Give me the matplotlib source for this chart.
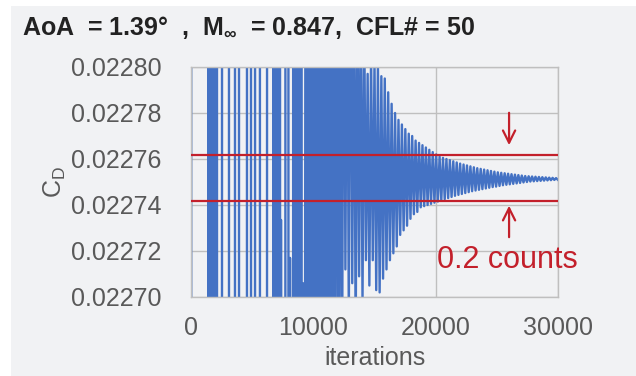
import numpy as np
import matplotlib.pyplot as plt
from matplotlib.patches import Rectangle
from matplotlib.ticker import FormatStrFormatter

# early iterations: C_D swings far outside the window, so only near-vertical strokes show
early_iter = [0, 30,
              1390, 1430, 1470, 1510, 1550, 1590, 1630, 1670, 1710, 1750, 1790, 1830, 1870, 1910, 1950, 1990,
              2110, 2140, 2520, 2550, 3090, 3120, 3580, 3610, 3910, 3940, 4560, 4590, 4890, 4920,
              5220, 5250, 5620, 5650, 6200, 6230,
              6700, 6740, 6780, 6820, 6860, 6900, 6940, 6980, 7020, 7060, 7100, 7140, 7180, 7220, 7260, 7300,
              7330, 7357, 7385, 7700, 7730, 7950, 7980, 8070, 8093, 8115,
              8330, 8370, 8410, 8450, 8490, 8530, 8570, 8610, 8650, 8690, 8730, 8770, 8810, 8850, 8890, 8930,
              8970, 9010, 9050, 9130, 9155, 9180]
early_cd = [0.0236, 0.0219,
            0.0219, 0.0236, 0.0219, 0.0236, 0.0219, 0.0236, 0.0219, 0.0236, 0.0219, 0.0236, 0.0219, 0.0236, 0.0219, 0.0236, 0.0219, 0.0236,
            0.0236, 0.0219, 0.0219, 0.0236, 0.0236, 0.0219, 0.0219, 0.0236, 0.0236, 0.0219, 0.0219, 0.0236, 0.0236, 0.0219,
            0.0219, 0.0236, 0.0236, 0.0219, 0.0219, 0.0236,
            0.0236, 0.0219, 0.0236, 0.0219, 0.0236, 0.0219, 0.0236, 0.0219, 0.0236, 0.0219, 0.0236, 0.0219, 0.0236, 0.0219, 0.0236, 0.0219,
            0.0219, 0.0227335, 0.0219, 0.0219, 0.0236, 0.0236, 0.0219, 0.0219, 0.022717, 0.0219,
            0.0219, 0.0236, 0.0219, 0.0236, 0.0219, 0.0236, 0.0219, 0.0236, 0.0219, 0.0236, 0.0219, 0.0236, 0.0219, 0.0236, 0.0219, 0.0236,
            0.0219, 0.0236, 0.0219, 0.0219, 0.022706, 0.0219]

# later iterations: one peak and one trough per cycle
cycle_start = 9400
cycle_len = 280
peak_cd = [0.02310, 0.02305, 0.02298, 0.02302, 0.02295, 0.02300, 0.02292, 0.02296, 0.02290, 0.02293,
           0.02288, 0.02290, 0.02286, 0.02288, 0.02285, 0.02284, 0.02283, 0.02282, 0.022797, 0.022805,
           0.022802, 0.022801, 0.022796, 0.022795, 0.022789, 0.022784, 0.022780, 0.022777, 0.022775, 0.022773,
           0.022771, 0.022770, 0.022768, 0.022767, 0.022766, 0.022765, 0.022764, 0.022763, 0.022762, 0.022761,
           0.0227605, 0.022760, 0.0227595, 0.022759, 0.0227585, 0.022758, 0.0227576, 0.0227572, 0.0227568, 0.0227564,
           0.022756, 0.0227557, 0.0227554, 0.0227551, 0.0227548, 0.0227545, 0.0227542, 0.022754, 0.0227538, 0.0227536,
           0.0227534, 0.0227532, 0.022753, 0.0227528, 0.0227526, 0.0227525, 0.0227524, 0.0227523, 0.0227522, 0.0227521,
           0.022752, 0.0227519, 0.0227518, 0.0227517]
trough_cd = [0.02240, 0.02245, 0.02250, 0.02248, 0.02252, 0.02255, 0.02256, 0.02258, 0.02260, 0.02262,
             0.02264, 0.022712, 0.022690, 0.022706, 0.022680, 0.022709, 0.022698, 0.022716, 0.022705, 0.022716,
             0.022703, 0.022702, 0.022708, 0.022712, 0.022716, 0.022719, 0.022722, 0.022727, 0.022729, 0.022731,
             0.022734, 0.022736, 0.022737, 0.022739, 0.0227395, 0.022740, 0.0227405, 0.022741, 0.0227415, 0.022742,
             0.0227425, 0.022743, 0.0227435, 0.022744, 0.0227444, 0.0227448, 0.0227452, 0.0227456, 0.022746, 0.0227463,
             0.0227466, 0.0227469, 0.0227472, 0.0227475, 0.0227478, 0.022748, 0.0227483, 0.0227486, 0.0227488, 0.022749,
             0.0227492, 0.0227494, 0.0227496, 0.0227498, 0.02275, 0.0227502, 0.0227503, 0.0227504, 0.0227505, 0.0227506,
             0.0227507, 0.0227508, 0.0227509, 0.022751]

band_cd = [0.0227617, 0.0227417]   # the two red reference lines (0.2 counts apart)

blue = '#4472c4'
red = '#c3202b'
grey_txt = '#595959'
bg = '#f1f2f4'

k = np.arange(len(peak_cd))
cyc_iter = np.empty(2 * len(k))
cyc_iter[0::2] = cycle_start + cycle_len * k
cyc_iter[1::2] = cycle_start + cycle_len * k + cycle_len / 2
cyc_cd = np.empty(2 * len(k))
cyc_cd[0::2] = peak_cd
cyc_cd[1::2] = trough_cd

x = np.concatenate([early_iter, cyc_iter])
y = np.concatenate([early_cd, cyc_cd])

fig = plt.figure(figsize=(6.36, 3.76), dpi=100, facecolor='white')
fig.patches.append(Rectangle((11 / 636, 0), 1, 370 / 376, transform=fig.transFigure,
                             facecolor=bg, edgecolor='none', zorder=-10))
ax = fig.add_axes([191 / 636, 79 / 376, 367 / 636, 230 / 376])
ax.set_facecolor(bg)

ax.plot(x, y, color=blue, lw=1.7, zorder=2)
for v in band_cd:
    ax.axhline(v, color=red, lw=1.6, zorder=3)

ax.annotate('', xy=(26000, 0.0227648), xytext=(26000, 0.0227813),
            arrowprops=dict(arrowstyle='->', color=red, lw=1.6, mutation_scale=22))
ax.annotate('', xy=(26000, 0.0227409), xytext=(26000, 0.0227248),
            arrowprops=dict(arrowstyle='->', color=red, lw=1.6, mutation_scale=22))
ax.text(20100, 0.0227126, '0.2 counts', color=red, fontsize=22, family='Liberation Sans',
        va='baseline', ha='left', zorder=5)

ax.set_xlim(0, 30000)
ax.set_ylim(0.02270, 0.02280)
ax.set_xticks([0, 10000, 20000, 30000])
ax.set_yticks([0.02270, 0.02272, 0.02274, 0.02276, 0.02278, 0.02280])
ax.yaxis.set_major_formatter(FormatStrFormatter('%.5f'))
ax.tick_params(length=0, labelsize=18, labelcolor=grey_txt)
ax.tick_params(axis='y', pad=21)
ax.tick_params(axis='x', pad=14)
for lab in ax.get_xticklabels() + ax.get_yticklabels():
    lab.set_family('Liberation Sans')
ax.grid(True, color='#bfbfbf', lw=1.0, zorder=0)
for s in ax.spines.values():
    s.set_color('#bfbfbf')
    s.set_linewidth(1.0)

ax.set_xlabel('iterations', fontsize=18, color=grey_txt, family='Liberation Sans', labelpad=4)
ax.set_ylabel(r'C$_\mathregular{D}$', fontsize=18, color=grey_txt, family='Liberation Sans', labelpad=2)

fig.text(22 / 636, 1 - 28 / 376, 'AoA  = 1.39°  ,  M$_\\mathregular{\\infty}$  = 0.847,  CFL# = 50',
         fontsize=18, fontweight='bold', family=['Liberation Sans Narrow', 'Liberation Sans'],
         va='center', ha='left', color='#222222')

fig.savefig('out.png', dpi=100, facecolor='white')
